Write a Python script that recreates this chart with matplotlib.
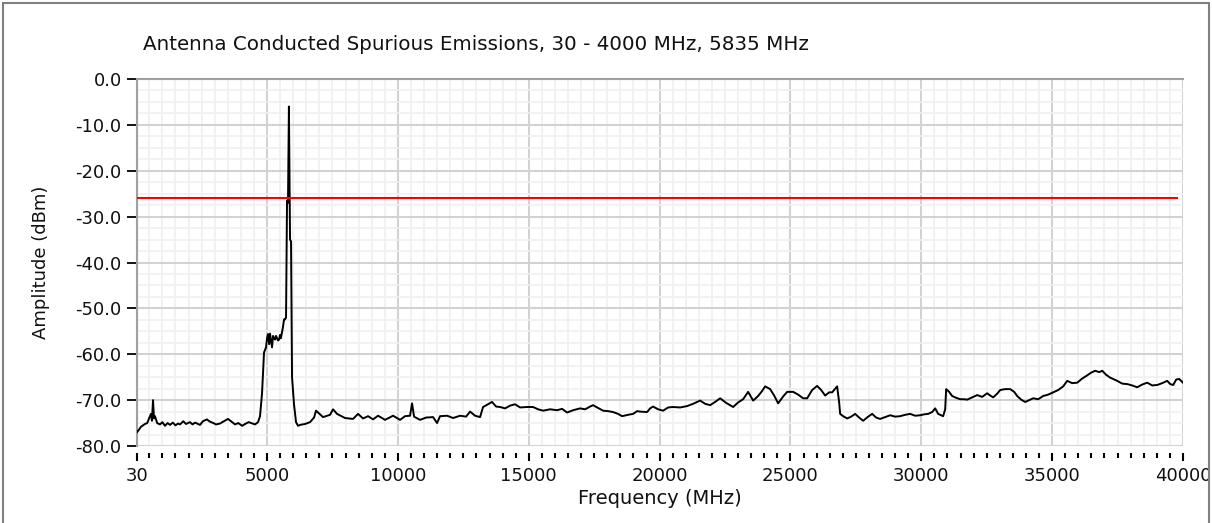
import matplotlib.pyplot as plt
from matplotlib.ticker import FixedLocator, MultipleLocator, FuncFormatter
from matplotlib.patches import Rectangle

# sweep 30 - 40000 MHz, amplitude in dBm
freq_mhz = [
    30, 110, 183, 260, 336, 420, 489, 565, 600, 642, 680, 718, 800, 909, 1000,
    1100, 1200, 1291, 1400, 1500, 1600, 1673, 1800, 1900, 2056, 2150, 2250,
    2438, 2550, 2700, 2820, 2950, 3050, 3202, 3350, 3508, 3600, 3776, 3900,
    4050, 4158, 4300, 4400, 4540, 4655, 4731, 4808, 4884, 4960, 5000, 5037,
    5080, 5113, 5150, 5190, 5230, 5266, 5305, 5343, 5380, 5419, 5460, 5495,
    5530, 5572, 5610, 5648, 5687, 5725, 5763, 5800, 5835, 5878, 5916, 5954,
    6031, 6107, 6183, 6260, 6451, 6642, 6795, 6872, 7139, 7407, 7521, 7674,
    7980, 8286, 8477, 8668, 8859, 9050, 9241, 9509, 9815, 10082, 10273, 10464,
    10541, 10617, 10847, 11076, 11343, 11496, 11611, 11879, 12108, 12375,
    12605, 12757, 12948, 13139, 13254, 13407, 13598, 13751, 13904, 14095,
    14286, 14477, 14668, 14936, 15165, 15356, 15547, 15815, 16082, 16273,
    16465, 16694, 16962, 17153, 17344, 17459, 17612, 17841, 18032, 18223,
    18414, 18567, 18796, 18987, 19140, 19255, 19522, 19637, 19752, 19943,
    20134, 20325, 20516, 20784, 21051, 21281, 21548, 21739, 21930, 22121,
    22313, 22542, 22810, 23001, 23192, 23383, 23574, 23765, 23918, 24033,
    24224, 24377, 24530, 24721, 24874, 25103, 25294, 25485, 25638, 25829,
    26020, 26173, 26326, 26479, 26593, 26708, 26784, 26861, 26899, 27014,
    27167, 27320, 27472, 27625, 27778, 27969, 28122, 28275, 28427, 28619,
    28810, 29001, 29192, 29383, 29574, 29765, 29956, 30109, 30262, 30415,
    30530, 30644, 30835, 30912, 30950, 31064, 31179, 31332, 31485, 31638,
    31752, 31943, 32135, 32326, 32517, 32632, 32746, 32899, 33014, 33205,
    33396, 33549, 33664, 33817, 33970, 34122, 34275, 34466, 34657, 34849,
    35040, 35231, 35422, 35575, 35766, 35957, 36148, 36339, 36492, 36645,
    36798, 36913, 37066, 37219, 37372, 37486, 37677, 37868, 38059, 38250,
    38442, 38633, 38824, 39015, 39206, 39397, 39512, 39626, 39741, 39856,
    40000,
]
amp_dbm = [
    -77.0, -76.4, -75.8, -75.5, -75.2, -75.0, -74.0, -73.0, -74.5, -70.0,
    -74.0, -73.5, -75.0, -75.3, -74.8, -75.6, -75.0, -75.4, -74.9, -75.5,
    -75.1, -75.3, -74.6, -75.2, -74.8, -75.3, -74.9, -75.4, -74.6, -74.2,
    -74.7, -75.0, -75.3, -75.1, -74.6, -74.1, -74.5, -75.3, -75.0, -75.6,
    -75.2, -74.8, -75.0, -75.3, -74.8, -73.5, -68.5, -59.6, -58.5, -56.5,
    -55.6, -57.8, -55.5, -57.0, -58.5, -56.0, -56.5, -56.8, -56.0, -56.5,
    -57.0, -56.8, -55.8, -56.5, -55.2, -54.0, -52.4, -52.4, -52.0, -26.5,
    -27.0, -6.0, -35.0, -35.4, -65.0, -71.0, -74.8, -75.6, -75.4, -75.2,
    -74.8, -73.8, -72.3, -73.7, -73.2, -72.0, -73.0, -73.9, -74.1, -73.0,
    -74.0, -73.5, -74.2, -73.4, -74.3, -73.4, -74.3, -73.5, -73.4, -70.7,
    -73.6, -74.3, -73.8, -73.7, -75.0, -73.5, -73.4, -73.9, -73.4, -73.6,
    -72.5, -73.4, -73.7, -71.5, -71.0, -70.4, -71.4, -71.5, -71.8, -71.2,
    -70.9, -71.6, -71.5, -71.5, -72.0, -72.3, -72.0, -72.2, -71.9, -72.7,
    -72.2, -71.8, -72.0, -71.4, -71.1, -71.6, -72.3, -72.4, -72.6, -73.0,
    -73.5, -73.2, -73.0, -72.4, -72.5, -72.6, -71.8, -71.4, -72.0, -72.3,
    -71.6, -71.5, -71.6, -71.3, -70.8, -70.1, -70.8, -71.1, -70.4, -69.6,
    -70.6, -71.5, -70.5, -69.8, -68.2, -70.1, -69.1, -68.0, -67.0, -67.6,
    -69.0, -70.7, -69.2, -68.2, -68.2, -68.8, -69.6, -69.6, -67.8, -66.9,
    -67.8, -69.0, -68.3, -68.3, -67.5, -67.0, -70.5, -73.0, -73.5, -74.0,
    -73.6, -73.0, -73.8, -74.5, -73.6, -73.0, -73.8, -74.1, -73.7, -73.3,
    -73.6, -73.5, -73.2, -73.0, -73.4, -73.3, -73.1, -73.0, -72.6, -71.8,
    -73.0, -73.5, -72.0, -67.6, -68.2, -69.1, -69.5, -69.8, -69.8, -69.9,
    -69.4, -68.9, -69.3, -68.5, -69.0, -69.4, -68.6, -67.8, -67.6, -67.6,
    -68.2, -69.1, -69.9, -70.4, -70.0, -69.6, -69.8, -69.1, -68.8, -68.3,
    -67.8, -67.0, -65.8, -66.3, -66.2, -65.3, -64.6, -64.0, -63.6, -63.9,
    -63.6, -64.5, -65.1, -65.5, -65.8, -66.4, -66.5, -66.8, -67.2, -66.6,
    -66.2, -66.8, -66.7, -66.3, -65.8, -66.5, -66.7, -65.5, -65.4, -66.2,
]

# limit line
limit_freq = [30, 39780]
limit_dbm = [-25.9, -25.9]

x_major = [30, 5000, 10000, 15000, 20000, 25000, 30000, 35000, 40000]

W, H = 1212, 523
fig = plt.figure(figsize=(W / 100, H / 100), dpi=100)
fig.patch.set_facecolor("white")
ax = fig.add_axes([137 / W, 1 - 446 / H, (1183 - 137) / W, (446 - 79) / H])

ax.plot(freq_mhz, amp_dbm, color="black", lw=1.4, zorder=3)
ax.plot(limit_freq, limit_dbm, color="#ff0000", lw=1.5, zorder=4)

ax.set_xlim(30, 40000)
ax.set_ylim(-80, 0)

ax.xaxis.set_major_locator(FixedLocator(x_major))
ax.xaxis.set_minor_locator(FixedLocator([m for m in range(500, 40000, 500) if m % 5000]))
ax.yaxis.set_major_locator(MultipleLocator(10))
ax.yaxis.set_minor_locator(MultipleLocator(2.5))
ax.yaxis.set_major_formatter(FuncFormatter(lambda v, p: f"{v:.1f}"))

# grid
ax.grid(which="major", color="#d2d2d2", lw=1.5, zorder=1)
ax.grid(which="minor", color="#f0f0f0", lw=1.2, zorder=0)
ax.set_axisbelow(True)

for s in ["right", "bottom"]:
    ax.spines[s].set_visible(False)
ax.spines["bottom"].set_position(("outward", 5))
for s in ["top", "left"]:
    ax.spines[s].set_color("#a0a0a0")
    ax.spines[s].set_linewidth(1.5)

fs = 13
ax.tick_params(axis="y", which="major", direction="out", length=7, width=1.3,
               color="black", pad=4, labelsize=fs, labelcolor="#111111")
ax.tick_params(axis="y", which="minor", length=0)
ax.tick_params(axis="x", which="major", direction="out", length=6, width=1.5,
               color="black", pad=4, labelsize=fs, labelcolor="#111111")
ax.tick_params(axis="x", which="minor", direction="out", length=3.5, width=1.5,
               color="black")

ax.set_xlabel("Frequency (MHz)", fontsize=14, color="#111111", labelpad=3)
ax.set_ylabel("Amplitude (dBm)", fontsize=13, color="#111111", labelpad=18)
fig.text(143 / W, 1 - 44 / H, "Antenna Conducted Spurious Emissions, 30 - 4000 MHz, 5835 MHz",
         fontsize=14.3, color="#111111", ha="left", va="center")

# panel frame
fig.patches.append(Rectangle((3 / W, -0.05), 1206 / W, 1.05 - 3 / H, transform=fig.transFigure,
                             fill=False, edgecolor="#808080", lw=1.5, zorder=10))
fig.patches.append(Rectangle((1209.5 / W, 0), 3 / W, 1, transform=fig.transFigure,
                             facecolor="white", edgecolor="none", zorder=9))

fig.savefig("out.png", dpi=100)
